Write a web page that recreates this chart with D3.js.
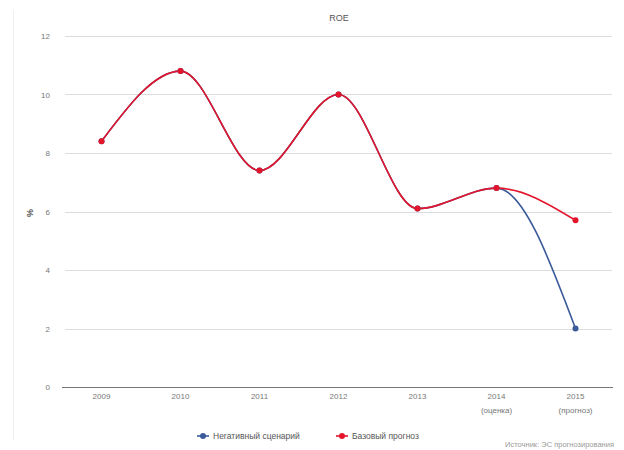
<!DOCTYPE html>
<html><head><meta charset="utf-8">
<script src="https://cdn.jsdelivr.net/npm/d3@7"></script>
<style>body{margin:0;background:#fff;font-family:"Liberation Sans",Arial,sans-serif;}</style>
</head><body>
<svg id="c" width="624" height="450"></svg>
<script>
const categories = ["2009","2010","2011","2012","2013","2014","2015"];
const subLabels = ["","","","","","(оценка)","(прогноз)"];
const negativeValues = [8.4,10.8,7.4,10.0,6.1,6.8,2.0];
const baseValues = [8.4,10.8,7.4,10.0,6.1,6.8,5.7];
const yTicks = [0,2,4,6,8,10,12];
const seriesNames = ["Негативный сценарий","Базовый прогноз"];
const title = "ROE";
const yTitle = "%";
const credits = "Источник: ЭС прогнозирования";

(function(){
const svg = d3.select("#c");
const pl = 62, pr = 615, pt = 36, pb = 387;
const x = d3.scaleBand().domain(categories).range([pl, pr]);
const y = d3.scaleLinear().domain([0,12]).range([pb, pt]);
const cx = d => x(d) + x.bandwidth()/2;

// faint border
svg.append("line").attr("x1",13.5).attr("x2",13.5).attr("y1",10).attr("y2",440).attr("stroke","#f0f0f0");

// grid
svg.append("g").selectAll("line").data(yTicks.filter(t=>t>0)).join("line")
  .attr("x1",pl+3).attr("x2",pr-3)
  .attr("y1",d=>Math.round(y(d))+0.5).attr("y2",d=>Math.round(y(d))+0.5)
  .attr("stroke","#dcdcdc").attr("stroke-width",1);

// y labels
const yAxis = d3.axisLeft(y).tickValues(yTicks).tickSize(0).tickPadding(10);
const gy = svg.append("g").attr("transform",`translate(${pl-2},0)`).call(yAxis);
gy.select(".domain").remove();
gy.selectAll("text").attr("font-size",8).attr("fill","#777").attr("font-family","Liberation Sans, Arial");

// x axis
const xAxis = d3.axisBottom(x).tickSize(0).tickPadding(6);
const gx = svg.append("g").attr("transform",`translate(0,${Math.round(pb)+0.5})`).call(xAxis);
gx.select(".domain").attr("stroke","#777").attr("d",`M${pl},0H${pr-2}`);
gx.selectAll("text").attr("font-size",8).attr("fill","#777").attr("font-family","Liberation Sans, Arial");
gx.selectAll(".tick").each(function(d,i){
  if(subLabels[i]) d3.select(this).append("text").attr("y",20).attr("dy","0.71em")
    .attr("text-anchor","middle").attr("font-size",8).attr("fill","#777")
    .attr("font-family","Liberation Sans, Arial").text(subLabels[i]);
});

// titles
svg.append("text").attr("x",339).attr("y",21).attr("text-anchor","middle")
  .attr("font-size",9).attr("fill","#555").text(title);
svg.append("text").attr("transform","translate(33,213)rotate(-90)").attr("text-anchor","middle")
  .attr("font-size",9).attr("font-weight","bold").attr("fill","#555").text(yTitle);

// lines
const line = d3.line().x((d,i)=>cx(categories[i])).y(d=>y(d)).curve(d3.curveMonotoneX);
const series = [
  {vals:negativeValues,color:"#3a5a9a"},
  {vals:baseValues,color:"#e4142b"}
];
series.forEach(s=>{
  svg.append("path").attr("d",line(s.vals)).attr("fill","none")
    .attr("stroke",s.color).attr("stroke-width",1.6);
});
// markers
svg.append("g").selectAll("circle").data(negativeValues).join("circle")
  .attr("cx",(d,i)=>cx(categories[i])).attr("cy",d=>y(d)).attr("r",3).attr("fill","#3a5a9a");
svg.append("g").selectAll("circle").data(baseValues).join("circle")
  .attr("cx",(d,i)=>cx(categories[i])).attr("cy",d=>y(d)).attr("r",3).attr("fill","#e4142b");

// legend
const lg = svg.append("g");
const legX = [203, 342];
seriesNames.forEach((n,i)=>{
  const c = series[i].color;
  lg.append("line").attr("x1",legX[i]-6).attr("x2",legX[i]+6).attr("y1",436).attr("y2",436)
    .attr("stroke",c).attr("stroke-width",1.6);
  lg.append("circle").attr("cx",legX[i]).attr("cy",436).attr("r",3).attr("fill",c);
  lg.append("text").attr("x",legX[i]+10).attr("y",439).attr("font-size",8.5).attr("fill","#555").text(n);
});

// credits
svg.append("text").attr("x",614).attr("y",447).attr("text-anchor","end")
  .attr("font-size",7.5).attr("fill","#999").text(credits);
})();
</script>
</body></html>
